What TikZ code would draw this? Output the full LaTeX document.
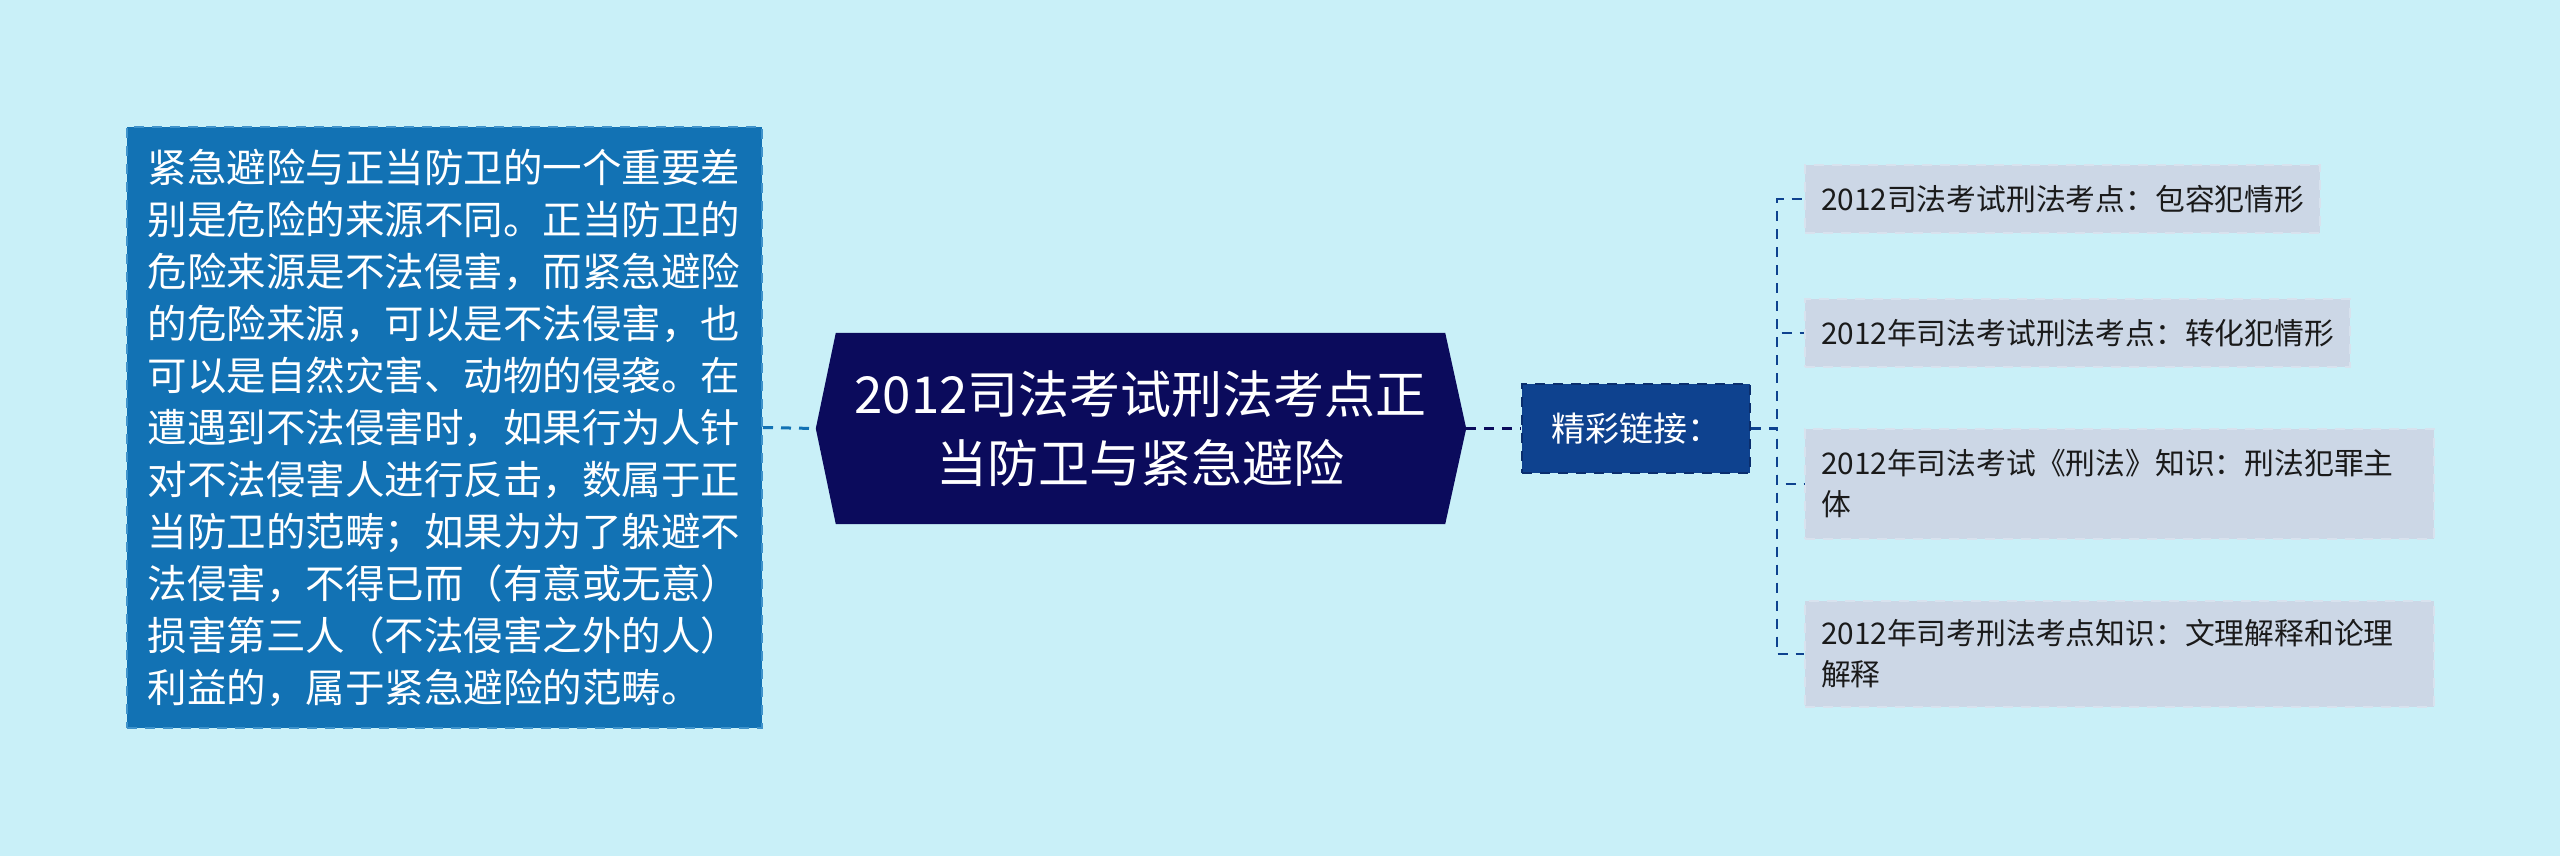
\documentclass[tikz,border=0pt]{standalone}
\usepackage{fontspec}
\setmainfont{Noto Sans CJK SC}
\usetikzlibrary{backgrounds}
\definecolor{bgc}{HTML}{C9F0F8}
\definecolor{lbfill}{HTML}{1272B4}
\definecolor{lbdraw}{HTML}{3F93CB}
\definecolor{navy}{HTML}{0B0B5C}
\definecolor{linkfill}{HTML}{0E428F}
\definecolor{linkdraw}{HTML}{0A2E6E}
\definecolor{rbfill}{HTML}{CCD7E6}
\definecolor{rbdraw}{HTML}{D8E2EE}
\definecolor{rtext}{HTML}{1A1A1A}
\tikzset{
  dashy/.style={dash pattern=on 10pt off 8pt},
  leftbox/.style={fill=lbfill, draw=lbdraw, line width=2pt, dashy, text=white,
    align=left, text width=594pt, inner xsep=20.5pt, inner ysep=0pt,
    minimum height=601pt, font=\fontsize{39.5}{52}\selectfont},
  centertext/.style={text=white, align=center, inner sep=0pt,
    minimum width=609pt, minimum height=191pt, font=\fontsize{51}{68.5}\selectfont},
  linkbox/.style={fill=linkfill, draw=linkdraw, line width=2pt, dashy, text=white,
    inner sep=0pt, minimum width=228pt, minimum height=89pt,
    font=\fontsize{34}{40}\selectfont},
  rightbox/.style={fill=rbfill, draw=rbdraw, line width=2pt, dashy, text=rtext,
    anchor=west, align=left, inner xsep=16pt, inner ysep=0pt,
    font=\fontsize{29.8}{41}\selectfont},
  lconn/.style={draw=lbfill, line width=3pt, dashy},
  dconn/.style={draw=navy, line width=3pt, dashy},
  rconn/.style={draw=linkfill, line width=2.5pt, dashy},
}
\begin{document}
\begin{tikzpicture}[x=1pt,y=-1pt]
\useasboundingbox (0,0) rectangle (2560,856);
\begin{scope}[on background layer]
\fill[bgc] (0,0) rectangle (2560,856);
\end{scope}

\node[leftbox] (lb) at (444.5,427.5) {紧急避险与正当防卫的一个重要差\\别是危险的来源不同。正当防卫的\\危险来源是不法侵害，而紧急避险\\的危险来源，可以是不法侵害，也\\可以是自然灾害、动物的侵袭。在\\遭遇到不法侵害时，如果行为人针\\对不法侵害人进行反击，数属于正\\当防卫的范畴；如果为为了躲避不\\法侵害，不得已而（有意或无意）\\损害第三人（不法侵害之外的人）\\利益的，属于紧急避险的范畴。};

\node[centertext] (ct) at (1140.5,428.5) {2012司法考试刑法考点正\\当防卫与紧急避险};
\coordinate (cL) at ([xshift=-20pt]ct.west);
\coordinate (cR) at ([xshift=21pt]ct.east);
\begin{scope}[on background layer]
\fill[navy] (ct.north west) -- (ct.north east) -- (cR) -- (ct.south east) -- (ct.south west) -- (cL) -- cycle;
\end{scope}

\node[linkbox] (link) at (1636,428.5) {精彩链接：};

\node[rightbox, minimum height=68pt] (c1) at (1804,199) {2012司法考试刑法考点：包容犯情形};
\node[rightbox, minimum height=68pt] (c2) at (1804,333) {2012年司法考试刑法考点：转化犯情形};
\node[rightbox, minimum height=110pt, text width=597pt] (c3) at (1804,484) {2012年司法考试《刑法》知识：刑法犯罪主\\体};
\node[rightbox, minimum height=106pt, text width=597pt] (c4) at (1804,654) {2012年司考刑法考点知识：文理解释和论理\\解释};

\draw[lconn] (lb.east) -- (cL);
\draw[dconn] (cR) -- (link.west);
\foreach \c in {c1,c2,c3,c4}{
  \draw[rconn] (link.east) -- ++(26,0) |- (\c.west);
}
\end{tikzpicture}
\end{document}
